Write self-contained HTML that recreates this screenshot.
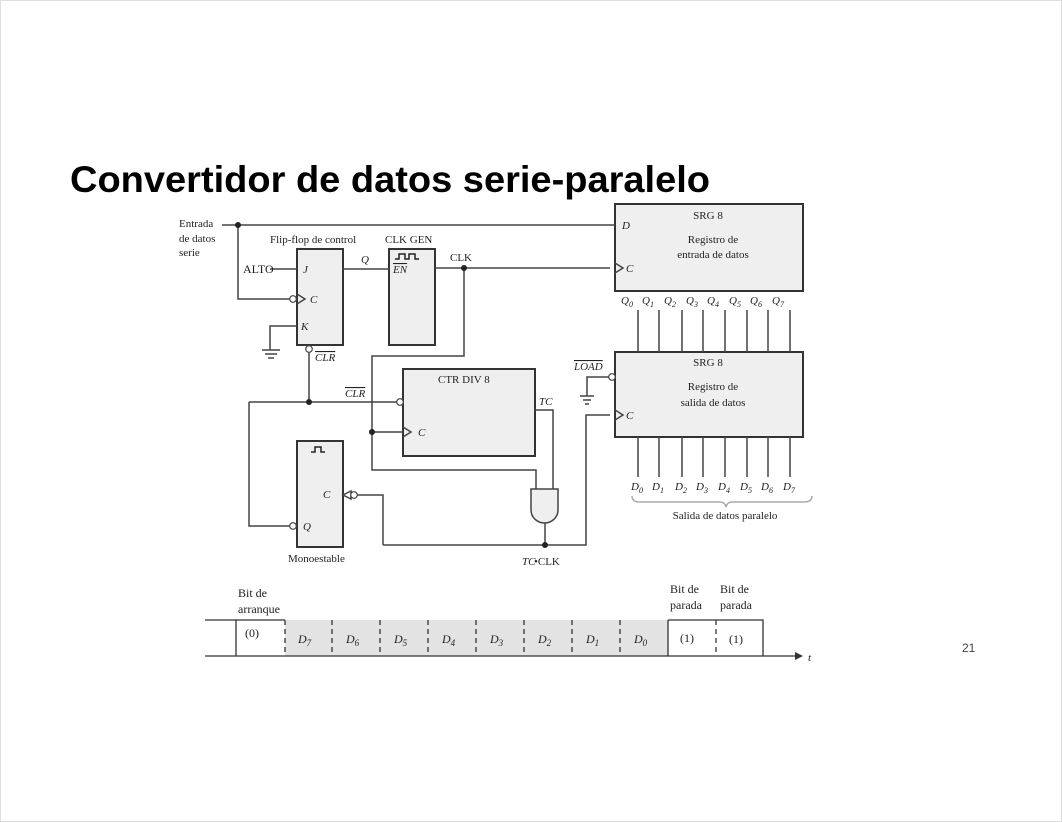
<!DOCTYPE html>
<html><head><meta charset="utf-8"><style>
body{margin:0;background:#fff;}
svg{display:block;}
</style></head><body>
<svg width="1062" height="822" viewBox="0 0 1062 822" xmlns="http://www.w3.org/2000/svg">
<rect x="0.5" y="0.5" width="1061" height="821" fill="#fff" stroke="#ddd"/>
<text x="70" y="192" font-family="Liberation Sans, sans-serif" font-weight="bold" font-size="37" textLength="640" lengthAdjust="spacingAndGlyphs" fill="#000">Convertidor de datos serie-paralelo</text>
<text x="962" y="652" font-family="Liberation Sans, sans-serif" font-size="12" fill="#444">21</text>

<g font-family="Liberation Serif, serif" font-size="11" fill="#222">
<g fill="#efefef" stroke="#333" stroke-width="2">
<rect x="297" y="249" width="46" height="96"/>
<rect x="389" y="249" width="46" height="96"/>
<rect x="403" y="369" width="132" height="87"/>
<rect x="297" y="441" width="46" height="106"/>
<rect x="615" y="204" width="188" height="87"/>
<rect x="615" y="352" width="188" height="85"/>
</g>
<g fill="none" stroke="#444" stroke-width="1.5">
<path d="M222 225H615M238 225V299H290"/>
<path d="M270 269H297"/>
<path d="M297 326H270V350"/>
<path d="M262 350h18M265 354h12M268 358h6"/>
<path d="M309 352V402M249 402H398M249 402V526H290"/>
<path d="M343 269H389"/>
<path d="M435 268H610"/>
<path d="M464 268V356H372V470H536V489"/>
<path d="M372 432H403"/>
<path d="M535 410H553V489"/>
<path d="M531 489H558V510A13.5 13 0 0 1 531 510Z" fill="#efefef"/>
<path d="M545 523V545"/>
<path d="M383 545H586V415H610"/>
<path d="M383 545V495H355"/>
<path d="M610 377H587V396M580 396h14M583 400h8M585 404h4"/>
<path d="M638 310V352M659 310V352M682 310V352M703 310V352M725 310V352M747 310V352M768 310V352M790 310V352"/>
<path d="M638 437V477M659 437V477M682 437V477M703 437V477M725 437V477M747 437V477M768 437V477M790 437V477"/>
<path d="M632 496q0 6 8 6h80q5 0 6 5q1-5 6-5h72q8 0 8-6" stroke="#aaa"/>
<path d="M297 294l8 5-8 5M403 427l8 5-8 5M615 263l8 5-8 5M615 410l8 5-8 5"/>
<path d="M343 495l8-4v8z"/>
<path d="M395 259h4v-5h6v5h4v-5h6v5h4" stroke="#222"/>
<path d="M311 452h4v-5h6v5h4" stroke="#222"/>
</g>
<g fill="#fff" stroke="#444" stroke-width="1.2">
<circle cx="293" cy="299" r="3.3"/><circle cx="309" cy="349" r="3.3"/>
<circle cx="400" cy="402" r="3.3"/><circle cx="293" cy="526" r="3.3"/>
<circle cx="354" cy="495" r="3.3"/><circle cx="612" cy="377" r="3.3"/>
</g>
<g fill="#222"><circle cx="238" cy="225" r="3"/><circle cx="464" cy="268" r="3"/><circle cx="309" cy="402" r="3"/><circle cx="372" cy="432" r="3"/><circle cx="545" cy="545" r="3"/></g>

<text x="179" y="227">Entrada</text><text x="179" y="242">de datos</text><text x="179" y="256">serie</text>
<text x="270" y="243">Flip-flop de control</text>
<text x="385" y="243">CLK GEN</text>
<text x="450" y="261">CLK</text>
<text x="243" y="273" font-size="12">ALTO</text>
<g font-style="italic">
<text x="303" y="273">J</text><text x="310" y="303">C</text><text x="301" y="330">K</text>
<text x="315" y="361" text-decoration="overline">CLR</text>
<text x="361" y="263">Q</text><text x="393" y="273" text-decoration="overline">EN</text>
<text x="345" y="397" text-decoration="overline">CLR</text>
<text x="418" y="436">C</text><text x="539" y="405">TC</text>
<text x="323" y="498">C</text><text x="303" y="530">Q</text>
<text x="622" y="229">D</text><text x="626" y="272">C</text><text x="626" y="419">C</text>
<text x="574" y="370" text-decoration="overline">LOAD</text>
<text x="522" y="565">TC</text>
<text x="621" y="304">Q<tspan font-size="8" dy="3">0</tspan></text>
<text x="642" y="304">Q<tspan font-size="8" dy="3">1</tspan></text>
<text x="664" y="304">Q<tspan font-size="8" dy="3">2</tspan></text>
<text x="686" y="304">Q<tspan font-size="8" dy="3">3</tspan></text>
<text x="707" y="304">Q<tspan font-size="8" dy="3">4</tspan></text>
<text x="729" y="304">Q<tspan font-size="8" dy="3">5</tspan></text>
<text x="750" y="304">Q<tspan font-size="8" dy="3">6</tspan></text>
<text x="772" y="304">Q<tspan font-size="8" dy="3">7</tspan></text>
<text x="631" y="490">D<tspan font-size="8" dy="3">0</tspan></text>
<text x="652" y="490">D<tspan font-size="8" dy="3">1</tspan></text>
<text x="675" y="490">D<tspan font-size="8" dy="3">2</tspan></text>
<text x="696" y="490">D<tspan font-size="8" dy="3">3</tspan></text>
<text x="718" y="490">D<tspan font-size="8" dy="3">4</tspan></text>
<text x="740" y="490">D<tspan font-size="8" dy="3">5</tspan></text>
<text x="761" y="490">D<tspan font-size="8" dy="3">6</tspan></text>
<text x="783" y="490">D<tspan font-size="8" dy="3">7</tspan></text>
</g>
<text x="534" y="565">•CLK</text>
<text x="438" y="383">CTR DIV 8</text>
<text x="288" y="562">Monoestable</text>
<g text-anchor="middle">
<text x="708" y="219">SRG 8</text><text x="713" y="243">Registro de</text><text x="713" y="258">entrada de datos</text>
<text x="708" y="366">SRG 8</text><text x="713" y="390">Registro de</text><text x="713" y="406">salida de datos</text>
<text x="725" y="519">Salida de datos paralelo</text>
</g>

<rect x="285" y="620" width="383" height="36" fill="#e3e3e3"/>
<g fill="none" stroke="#333" stroke-width="1.3">
<path d="M205 620H236V656"/>
<path d="M236 620H285M668 620V656M668 620H763V656"/>
<path d="M205 656H795"/>
<path d="M285 620V656M332 620V656M380 620V656M428 620V656M476 620V656M524 620V656M572 620V656M620 620V656M716 620V656" stroke-dasharray="5,4"/>
</g>
<path d="M795 652l8 4-8 4z" fill="#333"/>
<text x="808" y="661" font-style="italic">t</text>
<g font-size="12">
<text x="238" y="597">Bit de</text><text x="238" y="613">arranque</text>
<text x="670" y="593">Bit de</text><text x="670" y="609">parada</text>
<text x="720" y="593">Bit de</text><text x="720" y="609">parada</text>
<text x="245" y="637">(0)</text>
<text x="680" y="642">(1)</text><text x="729" y="643">(1)</text>
<g font-style="italic">
<text x="298" y="643">D<tspan font-size="9" dy="3">7</tspan></text>
<text x="346" y="643">D<tspan font-size="9" dy="3">6</tspan></text>
<text x="394" y="643">D<tspan font-size="9" dy="3">5</tspan></text>
<text x="442" y="643">D<tspan font-size="9" dy="3">4</tspan></text>
<text x="490" y="643">D<tspan font-size="9" dy="3">3</tspan></text>
<text x="538" y="643">D<tspan font-size="9" dy="3">2</tspan></text>
<text x="586" y="643">D<tspan font-size="9" dy="3">1</tspan></text>
<text x="634" y="643">D<tspan font-size="9" dy="3">0</tspan></text>
</g></g>
</g>
</svg>
</body></html>
